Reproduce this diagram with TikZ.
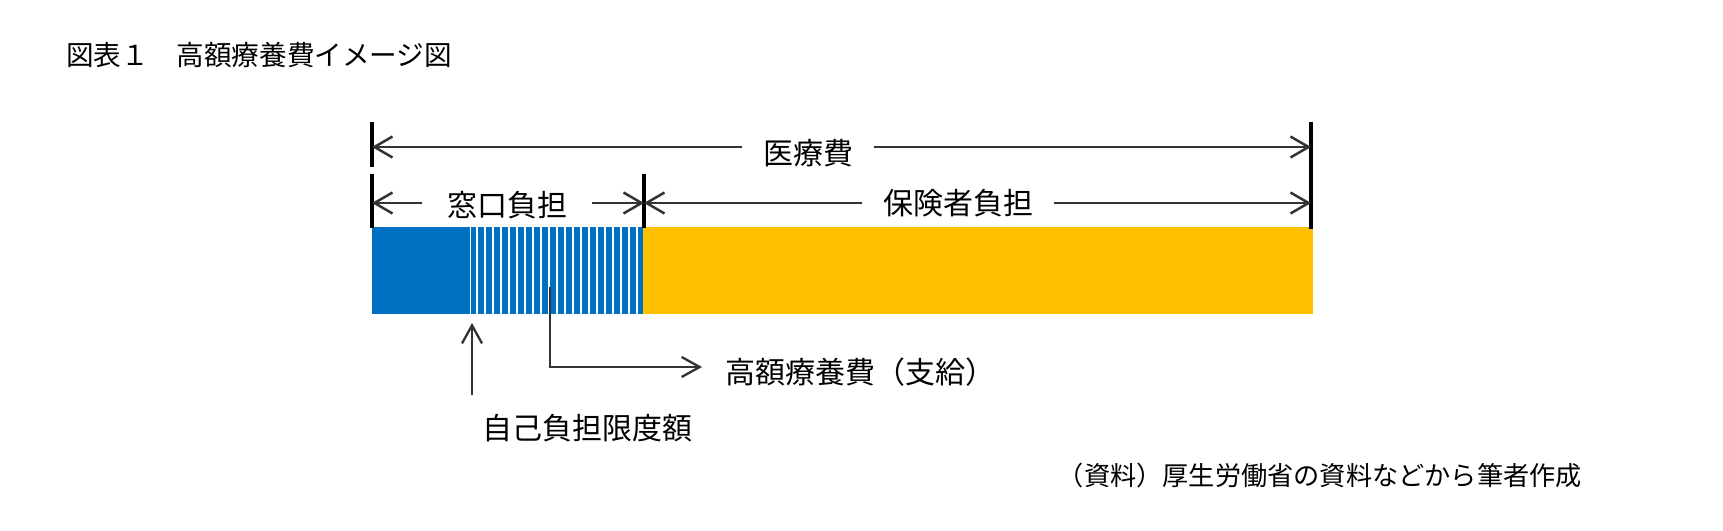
\documentclass[tikz,border=0pt]{standalone}
\usepackage{fontspec}
\setmainfont{Noto Sans CJK JP}
\usepackage{xcolor}
\usetikzlibrary{arrows.meta}
\definecolor{barblue}{HTML}{0070C0}
\definecolor{baryellow}{HTML}{FFC000}
\definecolor{ink}{HTML}{333333}
\tikzset{
  dim/.style={draw=ink, line width=2.5pt, {Straight Barb[length=18pt,width=21pt,line width=2.5pt]}-{Straight Barb[length=18pt,width=21pt,line width=2.5pt]}},
  ptr/.style={draw=ink, line width=2.3pt, -{Straight Barb[length=18pt,width=20pt,line width=2.3pt]}},
  tick/.style={draw=black, line width=3.6pt},
  stripe/.style={draw=white, line width=1.4pt},
  lab/.style={text=black, inner sep=0pt, font=\fontsize{30}{36}\selectfont},
  labfill/.style={lab, fill=white, inner xsep=21pt, inner ysep=2pt},
  ttl/.style={text=black, inner sep=0pt, font=\fontsize{27.6}{33}\selectfont},
  src/.style={text=black, inner sep=0pt, font=\fontsize{26.2}{31}\selectfont}
}
\begin{document}
\begin{tikzpicture}[x=1pt,y=-1pt]
  \useasboundingbox[fill=white] (0,0) rectangle (1723,530);
  \node[ttl, anchor=west] (title) at (66,55) {図表１　高額療養費イメージ図};

  % bar
  \fill[barblue] (372,227) rectangle (643,314);
  \fill[baryellow] (643,227) rectangle (1313,314);
  \foreach \x in {477,485,...,637}
    \draw[stripe] (\x,227) -- (\x,314);
  \draw[stripe, line width=0.8pt] (470.7,227) -- (470.7,314);

  % ticks
  \draw[tick] (372,122) -- (372,167);
  \draw[tick] (372,174) -- (372,228);
  \draw[tick] (644,174) -- (644,228);
  \draw[tick] (1311,122) -- (1311,229);

  \coordinate (TL) at (372,147);
  \coordinate (TR) at (1311,147);
  \coordinate (ML) at (372,203);
  \coordinate (MM) at (644,203);
  \coordinate (MR) at (1311,203);
  \draw[dim] (TL) -- (TR);
  \draw[dim] (ML) -- (MM);
  \draw[dim] (MM) -- (MR);
  \node[labfill] (total) at (808,153) {医療費};
  \node[labfill, inner xsep=25pt] (window) at (507,205) {窓口負担};
  \node[labfill] (insurer) at (958,203) {保険者負担};

  % pointers
  \coordinate (capfoot) at (472,395);
  \coordinate (captip) at (472,323);
  \coordinate (payfoot) at (550,287);
  \coordinate (paytip) at (702,367);
  \draw[ptr] (capfoot) -- (captip);
  \draw[ptr] (payfoot) |- (paytip);
  \node[lab] (cap) at (587,428) {自己負担限度額};
  \node[lab, anchor=west] (benefit) at (725,372) {高額療養費（支給）};

  \node[src, anchor=east] (source) at (1582,476) {（資料）厚生労働省の資料などから筆者作成};
\end{tikzpicture}
\end{document}
